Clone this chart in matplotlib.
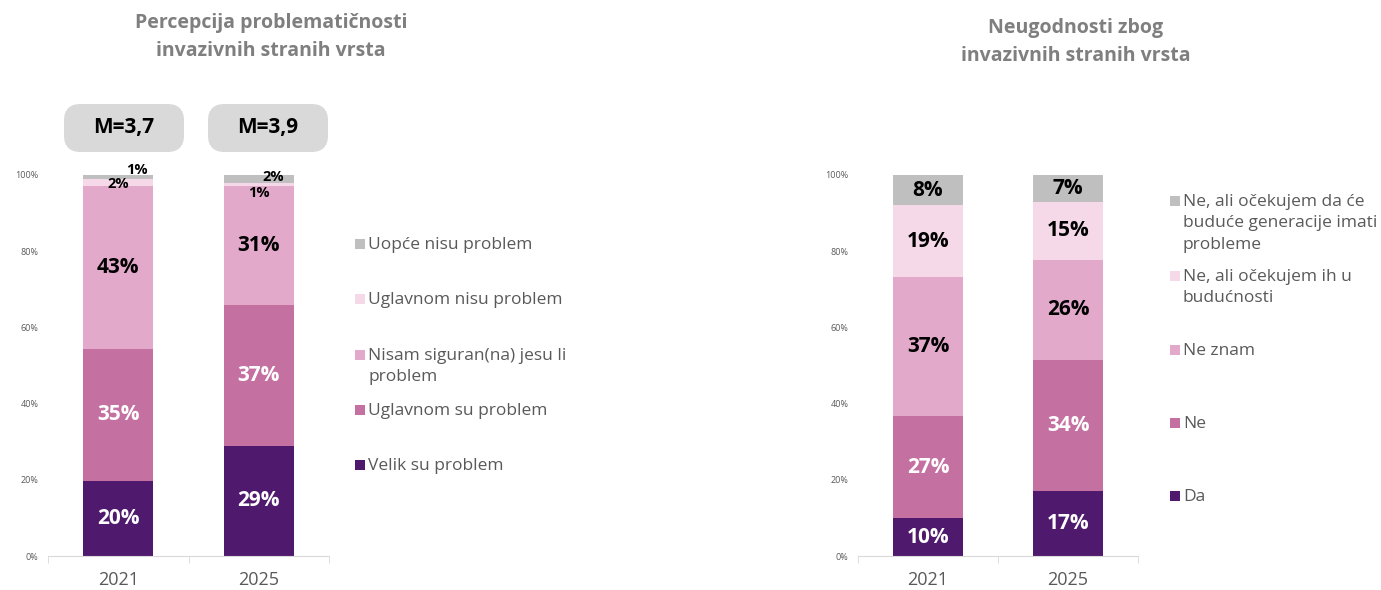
import matplotlib.pyplot as plt
from matplotlib.patches import FancyBboxPatch, Rectangle
import numpy as np

plt.rcParams['font.family'] = ['Open Sans', 'DejaVu Sans']

years = ["2021", "2025"]

# lijevi graf - percepcija problematičnosti
left_labels = ["Velik su problem", "Uglavnom su problem", "Nisam siguran(na) jesu li\nproblem",
               "Uglavnom nisu problem", "Uopće nisu problem"]
left_vals = [[20, 29], [35, 37], [43, 31], [2, 1], [1, 2]]
left_means = ["M=3,7", "M=3,9"]

# desni graf - neugodnosti
right_labels = ["Da", "Ne", "Ne znam", "Ne, ali očekujem ih u\nbudućnosti",
                "Ne, ali očekujem da će\nbuduće generacije imati\nprobleme"]
right_vals = [[10, 17], [27, 34], [37, 26], [19, 15], [8, 7]]

colors = ["#4F1A6E", "#C471A2", "#E2A9CB", "#F5D9E8", "#BFBFBF"]
txt_colors = ["white", "white", "black", "black", "black"]

W, H = 1381, 590
fig = plt.figure(figsize=(W / 100, H / 100), dpi=100)


def fx(x):
    return x / W


def fy(y):
    return 1 - y / H


def stacked(ax, vals, small_offsets=None):
    vals = np.array(vals, dtype=float)
    totals = vals.sum(axis=0)
    shares = vals / totals
    x = np.arange(len(years))
    bottom = np.zeros(len(years))
    for i, row in enumerate(shares):
        ax.bar(x, row, width=0.5, bottom=bottom, color=colors[i], zorder=2)
        for j in range(len(years)):
            v = vals[i, j]
            if small_offsets and (i, j) in small_offsets:
                dx, dy = small_offsets[(i, j)]
                ax.text(x[j] + dx, bottom[j] + row[j] / 2 + dy, f"{int(v)}%", ha="center",
                        va="center", fontsize=10.5, fontweight="bold", color="black", zorder=3)
            else:
                ax.text(x[j], bottom[j] + row[j] / 2, f"{int(v)}%", ha="center", va="center",
                        fontsize=15, fontweight="bold", color=txt_colors[i], zorder=3)
        bottom += row
    ax.set_xlim(-0.5, 1.5)
    ax.set_ylim(0, 1)
    ax.set_yticks(np.linspace(0, 1, 6))
    ax.set_yticklabels([f"{int(t)}%" for t in np.linspace(0, 100, 6)], fontsize=6.5, color="#595959")
    ax.tick_params(axis="y", length=0, pad=7)
    ax.set_xticks(x)
    ax.set_xticklabels(years, fontsize=13, color="#595959")
    ax.tick_params(axis="x", length=0, pad=11)
    ax.set_xticks([-0.5, 0.5, 1.5], minor=True)
    ax.tick_params(axis="x", which="minor", length=5, color="#D9D9D9", direction="out")
    for s in ["top", "right", "left"]:
        ax.spines[s].set_visible(False)
    ax.spines["bottom"].set_color("#D9D9D9")


axL = fig.add_axes([fx(48), fy(556), fx(329) - fx(48), fy(175) - fy(556)])
stacked(axL, left_vals, small_offsets={(3, 0): (0.0, -0.005), (4, 0): (0.13, 0.018),
                                       (3, 1): (0.0, -0.022), (4, 1): (0.1, 0.005)})
axR = fig.add_axes([fx(858), fy(556), fx(1138) - fx(858), fy(175) - fy(556)])
stacked(axR, right_vals)

# naslovi
fig.text(fx(271), fy(37), "Percepcija problematičnosti\ninvazivnih stranih vrsta", ha="center",
         va="center", fontsize=14, fontweight="bold", color="#7F7F7F", linespacing=1.5)
fig.text(fx(1076), fy(42), "Neugodnosti zbog\ninvazivnih stranih vrsta", ha="center",
         va="center", fontsize=14, fontweight="bold", color="#7F7F7F", linespacing=1.5)

# kutije sa srednjim vrijednostima
for cx, m in zip([124, 268], left_means):
    box = FancyBboxPatch((fx(cx - 60), fy(152)), fx(120), fy(104) - fy(152),
                         boxstyle="round,pad=0,rounding_size=0.012", transform=fig.transFigure,
                         facecolor="#D9D9D9", edgecolor="none", mutation_aspect=W / H)
    fig.patches.append(box)
    fig.text(fx(cx), fy(128), m, ha="center", va="center", fontsize=15, fontweight="bold",
             color="black")


def legend(x, ys, labels):
    # ys = vertikalno središte prvog retka
    for y, lab, c in zip(ys, labels, colors):
        fig.patches.append(Rectangle((fx(x), fy(y + 5)), fx(10), fy(y - 5) - fy(y + 5),
                                     transform=fig.transFigure, facecolor=c, edgecolor="none"))
        fig.text(fx(x + 13), fy(y - 7), lab, ha="left", va="top", fontsize=12.5, color="#595959",
                 linespacing=1.45, transform=fig.transFigure)


legend(355, [465, 410, 355, 299, 244], left_labels)
legend(1170, [496, 423, 350, 276, 201], right_labels)

fig.savefig("out.png", dpi=100)
